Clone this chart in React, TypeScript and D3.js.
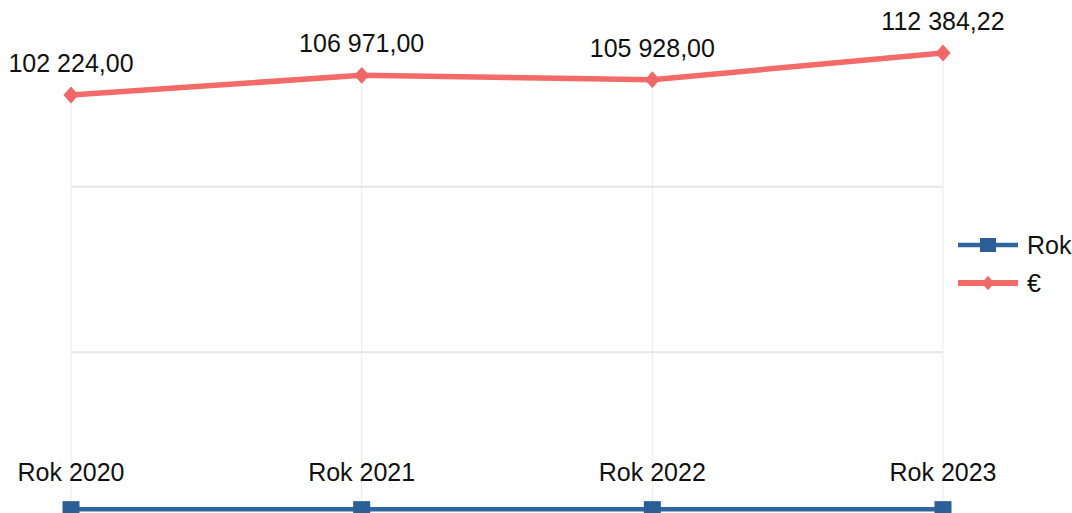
import * as d3 from "d3";

const categories = ["Rok 2020", "Rok 2021", "Rok 2022", "Rok 2023"];
const rokValues = [2020, 2021, 2022, 2023];
const euroValues = [102224, 106971, 105928, 112384.22];
const gridTicks = [0, 40000, 80000];
const seriesNames = ["Rok", "€"];

const W = 1072;
const H = 513;
const BLUE = "#30669d";
const BLUE_MARK = "#2b5f95";
const RED = "#f26b69";
const RED_MARK = "#ef6767";
const FONT = "'Liberation Sans', Arial, sans-serif";

const fmt = d3.formatLocale({ decimal: ",", thousands: " ", grouping: [3], currency: ["", "€"] }).format(",.2f");

export default function App() {
  const x = d3.scalePoint<string>().domain(categories).range([71, 943]);
  const y = d3.scaleLinear().domain([0, 120000]).range([517.5, 21.5]);

  const line = d3.line<number>()
    .x((_, i) => x(categories[i]) as number)
    .y((d) => y(d));

  const diamond = d3.symbol().type(d3.symbolDiamond2).size(180)();

  return (
    <svg width={W} height={H} style={{ position: "absolute", left: 0, top: 0, background: "#fff" }} fontFamily={FONT}>
      {/* grid */}
      {gridTicks.map((t) => (
        <line key={t} x1={x(categories[0])} x2={x(categories[categories.length - 1])} y1={y(t)} y2={y(t)}
          stroke="#e6e6e6" strokeWidth={2} />
      ))}
      {categories.map((c, i) => (
        <line key={c} x1={x(c)} x2={x(c)} y1={y(euroValues[i])} y2={y(0)} stroke="#ebebef" strokeWidth={1} />
      ))}

      {/* Rok series */}
      <path d={line(rokValues) || ""} fill="none" stroke={BLUE} strokeWidth={4.5} />
      {rokValues.map((v, i) => (
        <rect key={i} x={(x(categories[i]) as number) - 8.5} y={y(v) - 8} width={17} height={16} fill={BLUE_MARK} />
      ))}
      {rokValues.map((v, i) => (
        <text key={i} x={x(categories[i])} y={y(v) - 28} textAnchor="middle" fontSize={25} fill="#111">
          {categories[i]}
        </text>
      ))}

      {/* € series */}
      <path d={line(euroValues) || ""} fill="none" stroke={RED} strokeWidth={5.5} strokeLinejoin="round" />
      {euroValues.map((v, i) => (
        <path key={i} d={diamond || ""} transform={`translate(${x(categories[i])},${y(v)}) scale(0.9,1)`} fill={RED_MARK} />
      ))}
      {euroValues.map((v, i) => (
        <text key={i} x={x(categories[i])} y={y(v) - 23} textAnchor="middle" fontSize={25} fill="#111">
          {fmt(v)}
        </text>
      ))}

      {/* legend */}
      <g transform="translate(958,245)">
        <line x1={0} x2={60} y1={0} y2={0} stroke={BLUE} strokeWidth={4.5} />
        <rect x={22} y={-7} width={16} height={14} fill={BLUE_MARK} />
        <text x={69} y={9} fontSize={25} fill="#111">{seriesNames[0]}</text>
      </g>
      <g transform="translate(958,283)">
        <line x1={0} x2={60} y1={0} y2={0} stroke={RED} strokeWidth={6} />
        <path d={diamond || ""} transform="translate(30,0) scale(0.75,0.85)" fill={RED_MARK} />
        <text x={69} y={9} fontSize={25} fill="#111">{seriesNames[1]}</text>
      </g>
    </svg>
  );
}
